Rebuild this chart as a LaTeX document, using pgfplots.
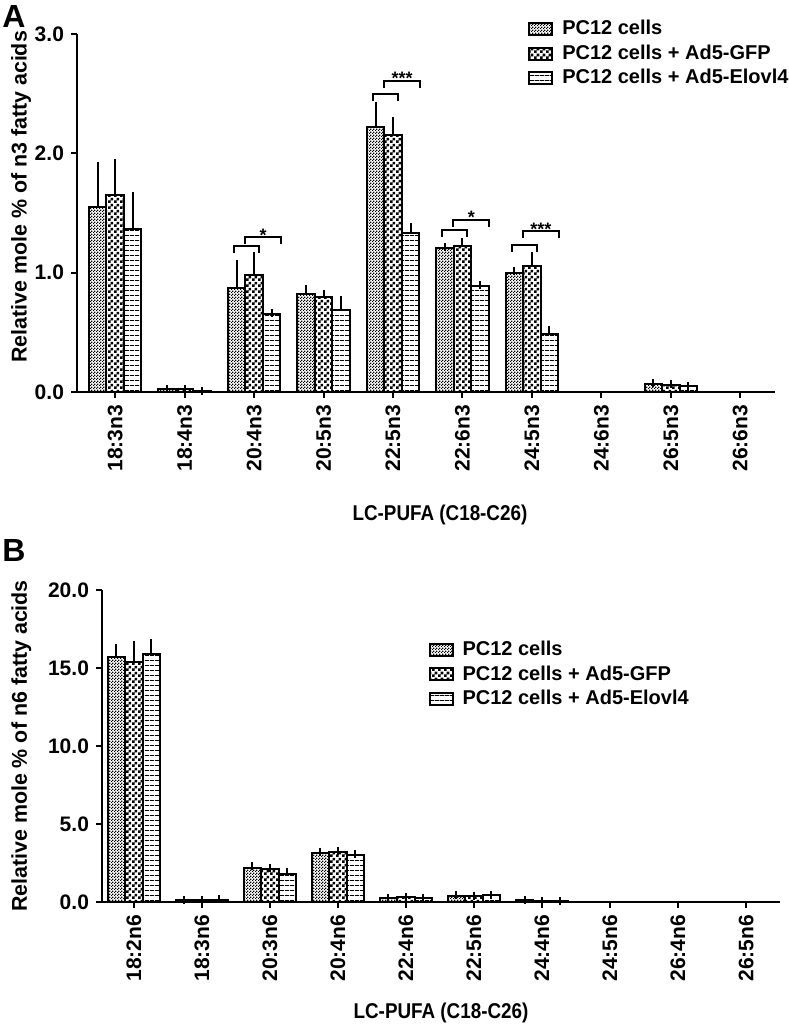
\documentclass[border=0pt]{standalone}
\usepackage{pgfplots}
\pgfplotsset{compat=1.18}
\usepackage{pgfplotstable}
\usetikzlibrary{patterns.meta}
\usepackage{fontspec}
\setmainfont{Liberation Sans}
\newfontfamily\narrowfont[FakeStretch=0.88]{Liberation Sans}

\pgfdeclarepattern{name=finecheck, type=uncolored,
  bottom left={\pgfpoint{0pt}{0pt}}, top right={\pgfpoint{1.5pt}{1.5pt}},
  tile size={\pgfpoint{1.5pt}{1.5pt}},
  code={\pgfpathrectangle{\pgfpoint{0pt}{0pt}}{\pgfpoint{0.75pt}{0.75pt}}
        \pgfpathrectangle{\pgfpoint{0.75pt}{0.75pt}}{\pgfpoint{0.75pt}{0.75pt}}
        \pgfusepath{fill}}}
\pgfdeclarepattern{name=bigcheck, type=uncolored,
  bottom left={\pgfpoint{0pt}{0pt}}, top right={\pgfpoint{3pt}{3pt}},
  tile size={\pgfpoint{3pt}{3pt}},
  code={\pgfpathrectangle{\pgfpoint{0pt}{0pt}}{\pgfpoint{1.5pt}{1.5pt}}
        \pgfpathrectangle{\pgfpoint{1.5pt}{1.5pt}}{\pgfpoint{1.5pt}{1.5pt}}
        \pgfusepath{fill}}}
\pgfdeclarepattern{name=hlines, type=uncolored,
  bottom left={\pgfpoint{0pt}{0pt}}, top right={\pgfpoint{2.5pt}{2.5pt}},
  tile size={\pgfpoint{2.5pt}{2.5pt}},
  code={\pgfpathrectangle{\pgfpoint{0pt}{0pt}}{\pgfpoint{2.5pt}{0.55pt}}
        \pgfusepath{fill}}}

\pgfplotstableread{
c v1 e1 v2 e2 v3 e3
0 1.55 0.34 1.65 0.27 1.37 0.27
1 0.025 0.0 0.025 0.0 0.012 0.0
2 0.87 0.20 0.98 0.16 0.655 0.01
3 0.82 0.045 0.80 0.02 0.69 0.08
4 2.22 0.18 2.15 0.12 1.33 0.05
5 1.21 0.005 1.22 0.04 0.89 0.005
6 1.00 0.015 1.06 0.08 0.49 0.03
8 0.065 0.012 0.06 0.01 0.05 0.0
}\dataA

\pgfplotstableread{
c v1 e1 v2 e2 v3 e3
0 15.7 0.6 15.4 1.1 15.9 0.7
1 0.1 0.02 0.1 0.02 0.15 0.03
2 2.2 0.1 2.1 0.05 1.8 0.1
3 3.15 0.08 3.2 0.05 3.0 0.08
4 0.25 0.03 0.3 0.03 0.25 0.02
5 0.4 0.03 0.38 0.03 0.45 0.03
6 0.1 0.02 0.07 0.01 0.06 0.01
}\dataB

\pgfplotsset{
  panel/.style={
    scale only axis, ybar=0pt, bar width=8.75pt, enlargelimits=false, clip=false,
    axis x line*=bottom, axis y line*=left,
    axis line style={line width=1.25pt, black},
    tick style={line width=1pt, black},
    tick align=outside, major tick length=3pt,
    xtick={0,...,9},
    x tick label style={rotate=90, anchor=east, font=\fontsize{10.5}{12}\selectfont\bfseries},
    y tick label style={font=\fontsize{10.5}{12}\selectfont\bfseries},
    yticklabel style={/pgf/number format/.cd, fixed, precision=1, fixed zerofill, assume math mode=true},
    label style={font=\fontsize{10.7}{12}\selectfont\bfseries},
    error bars/y dir=plus, error bars/y explicit,
    error bars/error bar style={line width=1pt, black},
    error bars/error mark options={line width=1pt, black, mark size=2pt},
    legend cell align=left,
    legend image code/.code={\draw[#1, line width=1pt] (0pt,-3pt) rectangle (11.5pt,3pt);
      \path (14pt,0pt);},
    legend style={draw=none, fill=none, inner sep=0pt, row sep=-0.5pt,
      font=\fontsize{10}{11}\selectfont\bfseries},
  },
  s1/.style={draw=black, line width=1pt, pattern=finecheck, pattern color=black},
  s2/.style={draw=black, line width=1pt, pattern=bigcheck, pattern color=black},
  s3/.style={draw=black, line width=1pt, pattern=hlines, pattern color=black},
}

\begin{document}
\begin{tikzpicture}
\path[use as bounding box] (0,0) rectangle (394pt,-515.5pt);
\node[font=\fontsize{16}{18}\selectfont\bfseries] at (7pt,-8pt) {A};
\node[font=\fontsize{16}{18}\selectfont\bfseries] at (7pt,-275pt) {B};

\begin{axis}[panel, at={(38.5pt,-196pt)}, anchor=south west,
  width=349pt, height=179pt, xmin=-0.55, xmax=9.5, ymin=0, ymax=3,
  ytick={0,1,2,3},
  xticklabels={18:3n3,18:4n3,20:4n3,20:5n3,22:5n3,22:6n3,24:5n3,24:6n3,26:5n3,26:6n3},
  xlabel={{\narrowfont\bfseries LC-PUFA (C18-C26)}},
  ylabel={Relative mole \% of n3 fatty acids},
  xlabel style={at={(axis description cs:0.52,-0.344)}, anchor=center},
  ylabel style={at={(axis description cs:-0.080,0.545)}, anchor=center, rotate=0},
  legend style={at={(0.646,1.05)}, anchor=north west},
]
\addplot[s1] table[x=c, y=v1, y error=e1] {\dataA};
\addplot[s2] table[x=c, y=v2, y error=e2] {\dataA};
\addplot[s3] table[x=c, y=v3, y error=e3] {\dataA};
\legend{PC12 cells, PC12 cells + Ad5-GFP, PC12 cells + Ad5-Elovl4}
% significance brackets
\draw[line width=1pt] (axis cs:1.712,1.161) -- (axis cs:1.712,1.22) -- (axis cs:2.072,1.22) -- (axis cs:2.072,1.161);
\draw[line width=1pt] (axis cs:1.87,1.241) -- (axis cs:1.87,1.30) -- (axis cs:2.389,1.30) -- (axis cs:2.389,1.241);
\node[anchor=base, font=\fontsize{9}{10}\selectfont\bfseries, inner sep=0pt] at (axis cs:2.13,1.265) {*};
\draw[line width=1pt] (axis cs:3.712,2.441) -- (axis cs:3.712,2.50) -- (axis cs:4.072,2.50) -- (axis cs:4.072,2.441);
\draw[line width=1pt] (axis cs:3.87,2.551) -- (axis cs:3.87,2.61) -- (axis cs:4.389,2.61) -- (axis cs:4.389,2.551);
\node[anchor=base, font=\fontsize{9}{10}\selectfont\bfseries, inner sep=0pt] at (axis cs:4.13,2.575) {***};
\draw[line width=1pt] (axis cs:4.712,1.301) -- (axis cs:4.712,1.36) -- (axis cs:5.072,1.36) -- (axis cs:5.072,1.301);
\draw[line width=1pt] (axis cs:4.87,1.386) -- (axis cs:4.87,1.445) -- (axis cs:5.389,1.445) -- (axis cs:5.389,1.386);
\node[anchor=base, font=\fontsize{9}{10}\selectfont\bfseries, inner sep=0pt] at (axis cs:5.13,1.41) {*};
\draw[line width=1pt] (axis cs:5.712,1.176) -- (axis cs:5.712,1.235) -- (axis cs:6.072,1.235) -- (axis cs:6.072,1.176);
\draw[line width=1pt] (axis cs:5.87,1.291) -- (axis cs:5.87,1.35) -- (axis cs:6.389,1.35) -- (axis cs:6.389,1.291);
\node[anchor=base, font=\fontsize{9}{10}\selectfont\bfseries, inner sep=0pt] at (axis cs:6.13,1.315) {***};
\end{axis}

\begin{axis}[panel, at={(51pt,-451pt)}, anchor=south west,
  width=339pt, height=156pt, xmin=-0.47, xmax=9.5, ymin=0, ymax=20,
  ytick={0,5,10,15,20},
  xticklabels={18:2n6,18:3n6,20:3n6,20:4n6,22:4n6,22:5n6,24:4n6,24:5n6,26:4n6,26:5n6},
  xlabel={{\narrowfont\bfseries LC-PUFA (C18-C26)}},
  ylabel={Relative mole \% of n6 fatty acids},
  xlabel style={at={(axis description cs:0.50,-0.356)}, anchor=center},
  ylabel style={at={(axis description cs:-0.119,0.5)}, anchor=center, rotate=0},
  legend style={at={(0.481,0.85)}, anchor=north west},
]
\addplot[s1] table[x=c, y=v1, y error=e1] {\dataB};
\addplot[s2] table[x=c, y=v2, y error=e2] {\dataB};
\addplot[s3] table[x=c, y=v3, y error=e3] {\dataB};
\legend{PC12 cells, PC12 cells + Ad5-GFP, PC12 cells + Ad5-Elovl4}
\end{axis}
\end{tikzpicture}
\end{document}
